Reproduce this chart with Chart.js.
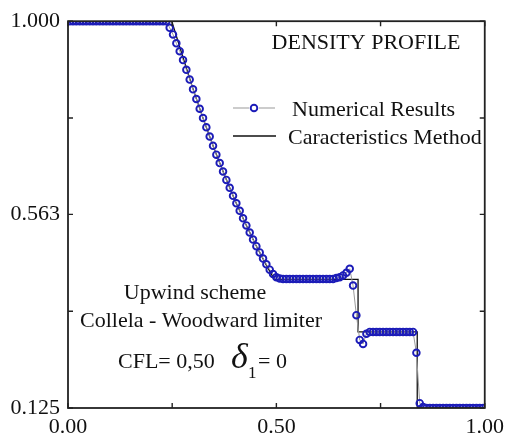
<!DOCTYPE html>
<html>
<head>
<meta charset="utf-8">
<script src="https://cdn.jsdelivr.net/npm/chart.js@4.4.1/dist/chart.umd.min.js"></script>
<style>
  html, body { margin: 0; padding: 0; background: #fff; }
  #wrap { width: 510px; height: 438px; }
</style>
</head>
<body>
<div id="wrap"><canvas id="chart" width="510" height="438"></canvas></div>
<script>
// Numerical results (cell centres)
var numX = [
  0.004, 0.012, 0.020, 0.028, 0.036, 0.044, 0.052, 0.060, 0.068, 0.076,
  0.084, 0.092, 0.100, 0.108, 0.116, 0.124, 0.132, 0.140, 0.148, 0.156,
  0.164, 0.172, 0.180, 0.188, 0.196, 0.204, 0.212, 0.220, 0.228, 0.236,
  0.244, 0.252, 0.260, 0.268, 0.276, 0.284, 0.292, 0.300, 0.308, 0.316,
  0.324, 0.332, 0.340, 0.348, 0.356, 0.364, 0.372, 0.380, 0.388, 0.396,
  0.404, 0.412, 0.420, 0.428, 0.436, 0.444, 0.452, 0.460, 0.468, 0.476,
  0.484, 0.492, 0.500, 0.508, 0.516, 0.524, 0.532, 0.540, 0.548, 0.556,
  0.564, 0.572, 0.580, 0.588, 0.596, 0.604, 0.612, 0.620, 0.628, 0.636,
  0.644, 0.652, 0.660, 0.668, 0.676, 0.684, 0.692, 0.700, 0.708, 0.716,
  0.724, 0.732, 0.740, 0.748, 0.756, 0.764, 0.772, 0.780, 0.788, 0.796,
  0.804, 0.812, 0.820, 0.828, 0.836, 0.844, 0.852, 0.860, 0.868, 0.876,
  0.884, 0.892, 0.900, 0.908, 0.916, 0.924, 0.932, 0.940, 0.948, 0.956,
  0.964, 0.972, 0.980, 0.988, 0.996
];
var numRho = [
  1.000, 1.000, 1.000, 1.000, 1.000, 1.000, 1.000, 1.000, 1.000, 1.000,
  1.000, 1.000, 1.000, 1.000, 1.000, 1.000, 1.000, 1.000, 1.000, 1.000,
  1.000, 1.000, 1.000, 1.000, 1.000, 1.000, 1.000, 1.000, 1.000, 1.000,
  0.985, 0.970, 0.950, 0.932, 0.912, 0.890, 0.868, 0.846, 0.824, 0.802,
  0.781, 0.760, 0.739, 0.718, 0.698, 0.679, 0.660, 0.641, 0.623, 0.605,
  0.588, 0.571, 0.554, 0.538, 0.522, 0.506, 0.491, 0.477, 0.463, 0.450,
  0.438, 0.428, 0.421, 0.418, 0.417, 0.417, 0.417, 0.417, 0.417, 0.417,
  0.417, 0.417, 0.417, 0.417, 0.417, 0.417, 0.417, 0.417, 0.417, 0.417,
  0.419, 0.421, 0.425, 0.431, 0.440, 0.402, 0.335, 0.279, 0.270, 0.293,
  0.297, 0.297, 0.297, 0.297, 0.297, 0.297, 0.297, 0.297, 0.297, 0.297,
  0.297, 0.297, 0.297, 0.297, 0.250, 0.136, 0.127, 0.125, 0.125, 0.125,
  0.125, 0.125, 0.125, 0.125, 0.125, 0.125, 0.125, 0.125, 0.125, 0.125,
  0.125, 0.125, 0.125, 0.125, 0.125
];

// Characteristics method (exact)
var exactX = [0, 0.249, 0.275, 0.300, 0.325, 0.350, 0.375, 0.400, 0.425, 0.450, 0.475, 0.495, 0.696, 0.696, 0.838, 0.838, 1.0];
var exactRho = [1.000, 1.000, 0.921, 0.847, 0.778, 0.713, 0.653, 0.596, 0.544, 0.495, 0.450, 0.416, 0.416, 0.297, 0.297, 0.125, 0.125];

var xTicks = [0, 0.25, 0.5, 0.75, 1.0];
var xLabels = ["0.00", "", "0.50", "", "1.00"];
var yTicks = [0.125, 0.344, 0.563, 0.781, 1.0];
var yLabels = ["0.125", "", "0.563", "", "1.000"];

var seriesNames = ["Numerical Results", "Caracteristics Method"];
var titleText = "DENSITY PROFILE";
var noteLines = ["Upwind scheme", "Collela - Woodward limiter"];

var SERIF = "'Liberation Serif', 'Times New Roman', serif";
var BLUE = "#1c1cb8";

function toPoints(xs, ys) {
  var pts = [];
  for (var i = 0; i < xs.length; i++) pts.push({ x: xs[i], y: ys[i] });
  return pts;
}

// frame, inward ticks, legend and notes
var decorations = {
  id: "decorations",
  afterDraw: function (chart) {
    var ctx = chart.ctx;
    var a = chart.chartArea;
    var xs = chart.scales.x, ys = chart.scales.y;
    ctx.save();
    ctx.strokeStyle = "#222";
    ctx.lineWidth = 1.8;
    ctx.strokeRect(a.left, a.top, a.right - a.left, a.bottom - a.top);

    ctx.lineWidth = 1.4;
    ctx.beginPath();
    xTicks.forEach(function (v) {
      var px = xs.getPixelForValue(v);
      ctx.moveTo(px, a.bottom); ctx.lineTo(px, a.bottom - 5);
      ctx.moveTo(px, a.top); ctx.lineTo(px, a.top + 5);
    });
    yTicks.forEach(function (v) {
      var py = ys.getPixelForValue(v);
      ctx.moveTo(a.left, py); ctx.lineTo(a.left + 5, py);
      ctx.moveTo(a.right, py); ctx.lineTo(a.right - 5, py);
    });
    ctx.stroke();

    // title inside plot
    ctx.fillStyle = "#111";
    ctx.font = "22px " + SERIF;
    ctx.textBaseline = "alphabetic";
    ctx.textAlign = "center";
    ctx.fillText(titleText, 366, 49);

    // legend
    var ds = chart.data.datasets;
    ctx.textAlign = "left";
    ctx.strokeStyle = ds[0].borderColor;
    ctx.lineWidth = 1.2;
    ctx.beginPath();
    ctx.moveTo(233, 108); ctx.lineTo(249, 108);
    ctx.moveTo(259, 108); ctx.lineTo(275, 108);
    ctx.stroke();
    ctx.strokeStyle = BLUE;
    ctx.lineWidth = 1.9;
    ctx.beginPath();
    ctx.arc(254, 108, 3.3, 0, Math.PI * 2);
    ctx.stroke();
    ctx.fillText(ds[0].label, 292, 116);

    ctx.strokeStyle = ds[1].borderColor;
    ctx.lineWidth = 1.4;
    ctx.beginPath();
    ctx.moveTo(233, 136); ctx.lineTo(276, 136);
    ctx.stroke();
    ctx.fillText(ds[1].label, 288, 144);

    // scheme notes
    ctx.textAlign = "center";
    ctx.fillText(noteLines[0], 195, 299);
    ctx.fillText(noteLines[1], 201, 327);

    ctx.textAlign = "left";
    ctx.fillText("CFL= 0,50", 118, 368);
    ctx.font = "italic 36px " + SERIF;
    ctx.fillText("\u03B4", 231, 368);
    ctx.font = "17px " + SERIF;
    ctx.fillText("1", 248, 378);
    ctx.font = "22px " + SERIF;
    ctx.fillText("= 0", 258, 368);
    ctx.restore();
  }
};

new Chart(document.getElementById("chart"), {
  type: "line",
  data: {
    datasets: [{
      label: seriesNames[0],
      data: toPoints(numX, numRho),
      borderColor: "#9a9a9a",
      borderWidth: 1,
      pointStyle: "circle",
      pointRadius: 3.3,
      pointBorderWidth: 1.9,
      pointBorderColor: BLUE,
      pointBackgroundColor: "rgba(255,255,255,0)",
      tension: 0
    }, {
      label: seriesNames[1],
      data: toPoints(exactX, exactRho),
      borderColor: "#111",
      borderWidth: 1.3,
      pointRadius: 0,
      tension: 0
    }]
  },
  options: {
    responsive: false,
    animation: false,
    layout: { padding: { top: 16, right: 21, left: 0, bottom: 0 } },
    plugins: { legend: { display: false }, tooltip: { enabled: false } },
    scales: {
      x: {
        type: "linear",
        min: 0, max: 1,
        afterBuildTicks: function (s) { s.ticks = xTicks.map(function (v) { return { value: v }; }); },
        afterFit: function (s) { s.height = 30; },
        grid: { display: false, drawTicks: false },
        border: { display: false },
        ticks: {
          padding: 6,
          maxRotation: 0,
          autoSkip: false,
          color: "#111",
          font: { family: SERIF, size: 22 },
          callback: function (v) { var i = xTicks.indexOf(v); return i < 0 ? "" : xLabels[i]; }
        }
      },
      y: {
        type: "linear",
        min: 0.125, max: 1.0,
        afterBuildTicks: function (s) { s.ticks = yTicks.map(function (v) { return { value: v }; }); },
        afterFit: function (s) { s.width = 68; },
        grid: { display: false, drawTicks: false },
        border: { display: false },
        ticks: {
          padding: 8,
          autoSkip: false,
          color: "#111",
          font: { family: SERIF, size: 22 },
          callback: function (v) { var i = yTicks.indexOf(v); return i < 0 ? "" : yLabels[i]; }
        }
      }
    }
  },
  plugins: [decorations]
});
</script>
</body>
</html>
